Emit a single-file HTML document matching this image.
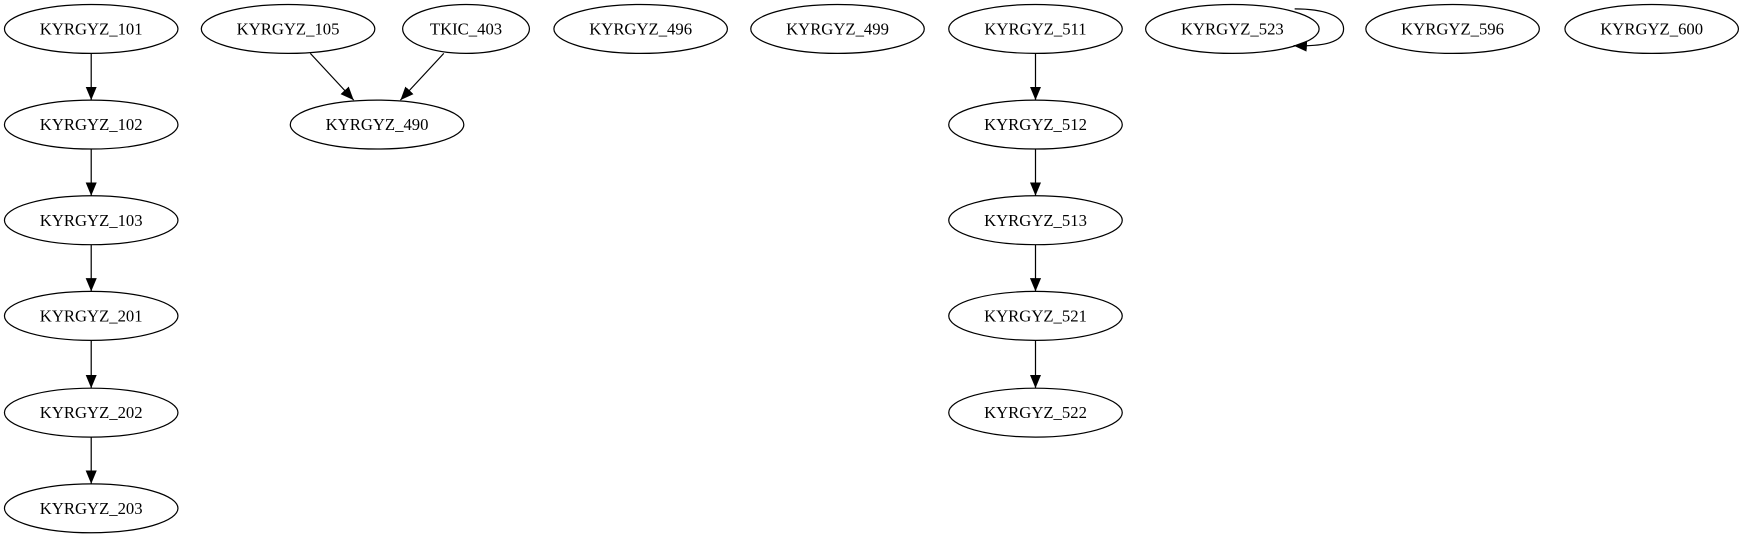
<!DOCTYPE html>
<html><head><meta charset="utf-8"><style>html,body{margin:0;padding:0;background:#fff;}svg{display:block}</style></head>
<body>
<svg width="1744" height="539" viewBox="0 0 1568 484.6" xmlns="http://www.w3.org/2000/svg">
<defs><marker id="a" markerWidth="12" markerHeight="10" refX="12" refY="5" orient="auto" markerUnits="userSpaceOnUse"><path d="M0,0 L12,5 L0,10 z" fill="#000"/></marker></defs>
<g fill="none" stroke="#000" stroke-width="1.1">
<ellipse cx="82" cy="26" rx="78" ry="22"/>
<ellipse cx="82" cy="112" rx="78" ry="22"/>
<ellipse cx="82" cy="198" rx="78" ry="22"/>
<ellipse cx="82" cy="284" rx="78" ry="22"/>
<ellipse cx="82" cy="371" rx="78" ry="22"/>
<ellipse cx="82" cy="457" rx="78" ry="22"/>
<ellipse cx="259" cy="26" rx="78" ry="22"/>
<ellipse cx="419" cy="26" rx="57" ry="22"/>
<ellipse cx="339" cy="112" rx="78" ry="22"/>
<ellipse cx="576" cy="26" rx="78" ry="22"/>
<ellipse cx="753" cy="26" rx="78" ry="22"/>
<ellipse cx="931" cy="26" rx="78" ry="22"/>
<ellipse cx="931" cy="112" rx="78" ry="22"/>
<ellipse cx="931" cy="198" rx="78" ry="22"/>
<ellipse cx="931" cy="284" rx="78" ry="22"/>
<ellipse cx="931" cy="371" rx="78" ry="22"/>
<ellipse cx="1108" cy="26" rx="78" ry="22"/>
<ellipse cx="1306" cy="26" rx="78" ry="22"/>
<ellipse cx="1485" cy="26" rx="78" ry="22"/>
<g marker-end="url(#a)">
<line x1="82" y1="48" x2="82" y2="90"/>
<line x1="82" y1="134" x2="82" y2="176"/>
<line x1="82" y1="220" x2="82" y2="262"/>
<line x1="82" y1="306" x2="82" y2="349"/>
<line x1="82" y1="393" x2="82" y2="435"/>
<line x1="931" y1="48" x2="931" y2="90"/>
<line x1="931" y1="134" x2="931" y2="176"/>
<line x1="931" y1="220" x2="931" y2="262"/>
<line x1="931" y1="306" x2="931" y2="349"/>
<line x1="279" y1="48" x2="318" y2="90"/>
<line x1="399" y1="48" x2="360" y2="90"/>
<path d="M1164,8 C1190,8 1208,14 1208,26 C1208,38 1190,42 1163,41"/>
</g>
</g>
<g font-family="'Liberation Serif',serif" font-size="15" text-anchor="middle" fill="#000">
<text x="82" y="31">KYRGYZ_101</text>
<text x="82" y="117">KYRGYZ_102</text>
<text x="82" y="203">KYRGYZ_103</text>
<text x="82" y="289">KYRGYZ_201</text>
<text x="82" y="376">KYRGYZ_202</text>
<text x="82" y="462">KYRGYZ_203</text>
<text x="259" y="31">KYRGYZ_105</text>
<text x="419" y="31">TKIC_403</text>
<text x="339" y="117">KYRGYZ_490</text>
<text x="576" y="31">KYRGYZ_496</text>
<text x="753" y="31">KYRGYZ_499</text>
<text x="931" y="31">KYRGYZ_511</text>
<text x="931" y="117">KYRGYZ_512</text>
<text x="931" y="203">KYRGYZ_513</text>
<text x="931" y="289">KYRGYZ_521</text>
<text x="931" y="376">KYRGYZ_522</text>
<text x="1108" y="31">KYRGYZ_523</text>
<text x="1306" y="31">KYRGYZ_596</text>
<text x="1485" y="31">KYRGYZ_600</text>
</g>
</svg>
</body></html>
